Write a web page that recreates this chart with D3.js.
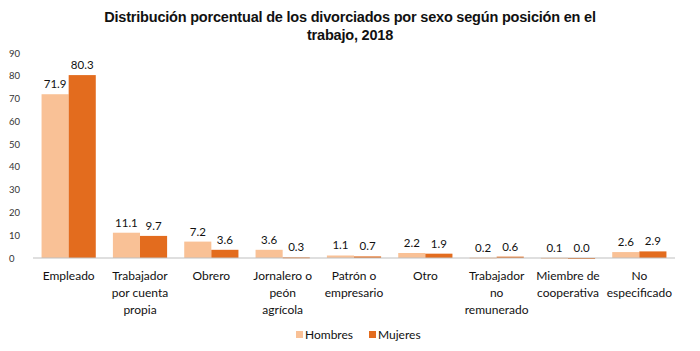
<!DOCTYPE html>
<html>
<head>
<meta charset="utf-8">
<script src="https://cdn.jsdelivr.net/npm/d3@7"></script>
<style>
  body { margin: 0; background: #fff; }
  svg text { font-family: Lato, "Open Sans", sans-serif; }
</style>
</head>
<body>
<div id="chart"></div>
<script>
// datos del gráfico
const categorias = [
  "Empleado", "Trabajador\npor cuenta\npropia", "Obrero", "Jornalero o\npeón\nagrícola",
  "Patrón o\nempresario", "Otro", "Trabajador\nno\nremunerado", "Miembre de\ncooperativa", "No\nespecificado"
];
const hombres = [71.9, 11.1, 7.2, 3.6, 1.1, 2.2, 0.2, 0.1, 2.6];
const mujeres = [80.3, 9.7, 3.6, 0.3, 0.7, 1.9, 0.6, 0.0, 2.9];
const series = ["Hombres", "Mujeres"];
const colores = ["#F9C196", "#E36C1E"];
const ticksY = [0, 10, 20, 30, 40, 50, 60, 70, 80, 90];

const W = 700, H = 351;
const margin = {top: 53, right: 25, bottom: 93, left: 33};
const width = W - margin.left - margin.right;
const height = H - margin.top - margin.bottom;

const svg = d3.select("#chart").append("svg")
    .attr("width", W).attr("height", H);

// título
svg.append("text")
    .attr("x", W / 2).attr("y", 22)
    .attr("text-anchor", "middle")
    .style("font-family", "'Liberation Sans', Arial, sans-serif")
    .style("font-weight", "bold").style("font-size", "14.5px").style("fill", "#111")
    .style("letter-spacing", "-0.2px")
    .selectAll("tspan")
    .data(["Distribución porcentual de los divorciados por sexo según posición en el", "trabajo, 2018"])
    .join("tspan")
      .attr("x", W / 2)
      .attr("dy", (d, i) => i === 0 ? 0 : 17.5)
      .text(d => d);

const g = svg.append("g").attr("transform", `translate(${margin.left},${margin.top})`);

const x = d3.scaleBand().domain(categorias).range([0, width]).paddingInner(0.24).paddingOuter(0.12);
const xs = d3.scaleBand().domain(series).range([0, x.bandwidth()]);
const y = d3.scaleLinear().domain([0, 90]).range([height, 0]);

// eje Y (solo etiquetas)
const yAxis = g.append("g")
    .call(d3.axisLeft(y).tickValues(ticksY).tickSize(0).tickPadding(20));
yAxis.select(".domain").remove();
yAxis.selectAll("text").style("font-size", "9.5px").style("fill", "#333")
    .attr("text-anchor", "start").attr("x", -24);

// barras
const datos = categorias.map((c, i) => ({cat: c, vals: [hombres[i], mujeres[i]]}));
const grupos = g.selectAll(".grupo").data(datos).join("g")
    .attr("class", "grupo")
    .attr("transform", d => `translate(${x(d.cat)},0)`);

grupos.selectAll("rect")
    .data(d => d.vals.map((v, j) => ({s: series[j], v: v, j: j})))
    .join("rect")
      .attr("x", d => xs(d.s))
      .attr("y", d => y(d.v))
      .attr("width", xs.bandwidth())
      .attr("height", d => Math.max(height - y(d.v), 1))
      .attr("fill", d => colores[d.j]);

grupos.selectAll(".etq")
    .data(d => d.vals.map((v, j) => ({s: series[j], v: v})))
    .join("text")
      .attr("class", "etq")
      .attr("x", d => xs(d.s) + xs.bandwidth() / 2)
      .attr("y", d => y(d.v) - 6)
      .attr("text-anchor", "middle")
      .style("font-size", "11.5px").style("fill", "#111")
      .text(d => d.v.toFixed(1));

// línea del eje X
g.append("line")
    .attr("x1", 0).attr("x2", width)
    .attr("y1", height).attr("y2", height)
    .attr("stroke", "#BFBFBF").attr("stroke-width", 1.2);

// etiquetas de categoría
g.selectAll(".cat").data(categorias).join("text")
    .attr("class", "cat")
    .attr("text-anchor", "middle")
    .style("font-size", "12px").style("fill", "#111")
    .each(function(d) {
      const t = d3.select(this);
      d.split("\n").forEach((linea, i) => {
        t.append("tspan")
          .attr("x", x(d) + x.bandwidth() / 2)
          .attr("y", height + 22 + i * 17)
          .text(linea);
      });
    });

// leyenda
const leyenda = svg.append("g").attr("transform", "translate(296,335)");
const posLeyenda = [0, 73];
series.forEach((s, i) => {
  const it = leyenda.append("g").attr("transform", `translate(${posLeyenda[i]},0)`);
  it.append("rect").attr("x", 0).attr("y", -4).attr("width", 7).attr("height", 7).attr("fill", colores[i]);
  it.append("text").attr("x", 9).attr("y", 0).attr("dy", "0.35em")
    .style("font-size", "12px").style("fill", "#111").text(s);
});
</script>
</body>
</html>
